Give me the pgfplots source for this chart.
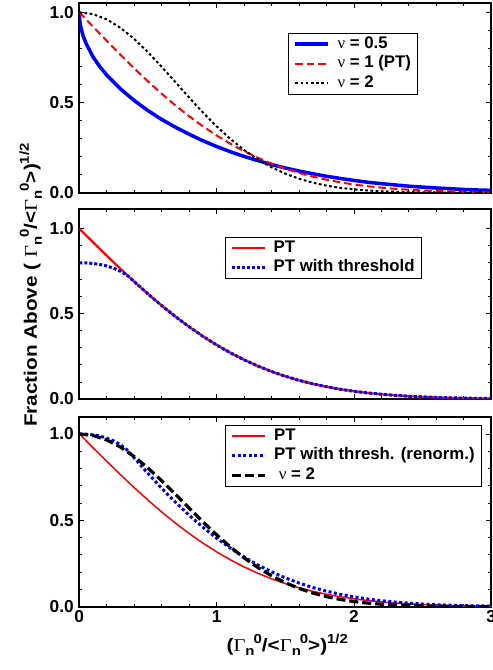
\documentclass[border=0pt]{standalone}
\usepackage{fontspec}
\setmainfont{Liberation Sans}
\newfontfamily\grk{Liberation Serif}
\newfontfamily\labfam[FakeStretch=1.15]{Liberation Sans}
\newfontfamily\labgrk[FakeStretch=1.15]{Liberation Serif}
\usepackage{pgfplots}
\pgfplotsset{compat=1.18}

\newcommand{\tickfont}{\fontsize{17.3}{19}\selectfont\bfseries}
\newcommand{\legfont}{\fontsize{16.8}{19}\selectfont\bfseries}
\newcommand{\labfont}{\labfam\fontsize{18}{21}\selectfont\bfseries}
\newcommand{\sml}[1]{{\fontsize{13}{13}\selectfont #1}}
% Gamma_n^0 as in the axis labels (index and exponent side by side)
\newcommand{\Gn}{{\labgrk\mdseries Γ}\raisebox{-5pt}{\sml{n}}\kern-1pt\raisebox{8pt}{\sml{0}}}

\pgfplotsset{
  panel/.style={
    scale only axis, width=412pt, xmin=0, xmax=3, ymin=0,
    axis line style={line width=1.8pt},
    tick align=inside, major tick length=5pt, minor tick length=3pt,
    tick style={black, line width=0.9pt},
    xtick={0,1,2,3}, ytick={0,0.5,1},
    minor x tick num=4, minor y tick num=4,
    yticklabels={0.0,0.5,1.0},
    tick label style={font=\tickfont},
    yticklabel style={xshift=-2pt},
    /pgf/number format/assume math mode=true,
    legend cell align=left,
    legend style={draw=black, line width=0.8pt, font=\legfont,
      inner xsep=5pt, inner ysep=1pt, row sep=0pt,
      nodes={inner sep=1.5pt, text height=12.5pt, text depth=4pt},
      /tikz/every odd column/.append style={column sep=6pt},
      anchor=north west},
    legend image code/.code={\draw[##1] (0pt,0pt) -- (33pt,0pt);},
    anchor=south west,
  }
}

\begin{document}
\begin{tikzpicture}
% ---- top panel: nu = 0.5, 1, 2
\begin{axis}[panel, at={(0pt,414pt)}, height=189.4pt, ymax=1.05, xticklabels={},
  legend style={at={(rel axis cs:0.507,0.843)}}]
\addplot[blue, line width=3.5pt] coordinates {
(0,1) (0.0005,0.983) (0.002,0.965) (0.005,0.945) (0.01,0.922) (0.02,0.890)
(0.03,0.865) (0.05,0.826) (0.1,0.753) (0.15,0.698) (0.2,0.652) (0.3,0.575)
(0.4,0.511) (0.5,0.455) (0.6,0.406) (0.7,0.363) (0.8,0.324) (0.9,0.288)
(1.0,0.256) (1.1,0.227) (1.2,0.201) (1.3,0.178) (1.4,0.156) (1.5,0.137)
(1.6,0.120) (1.7,0.105) (1.8,0.091) (1.9,0.079) (2.0,0.068) (2.1,0.058)
(2.2,0.050) (2.3,0.043) (2.4,0.036) (2.5,0.031) (2.6,0.026) (2.7,0.022)
(2.8,0.018) (2.9,0.015) (3.0,0.013)};
\addlegendentry{{\grk\mdseries ν} = 0.5}
\addplot[red, line width=2pt, dash pattern=on 7.5pt off 4pt] coordinates {
(0,1) (0.1,0.9203) (0.2,0.8415) (0.3,0.7642) (0.4,0.6892) (0.5,0.6171)
(0.6,0.5485) (0.7,0.4839) (0.8,0.4237) (0.9,0.3681) (1.0,0.3173) (1.1,0.2713)
(1.2,0.2301) (1.3,0.1936) (1.4,0.1615) (1.5,0.1336) (1.6,0.1096) (1.7,0.0891)
(1.8,0.0719) (1.9,0.0574) (2.0,0.0455) (2.1,0.0357) (2.2,0.0278) (2.3,0.0214)
(2.4,0.0164) (2.5,0.0124) (2.6,0.0093) (2.7,0.0069) (2.8,0.0051) (2.9,0.0037)
(3.0,0.0027)};
\addlegendentry{{\grk\mdseries ν} = 1 (PT)}
\addplot[black, line width=2pt, dash pattern=on 2.7pt off 2.5pt] coordinates {
(0,1) (0.1,0.99005) (0.2,0.96079) (0.3,0.91393) (0.4,0.85214) (0.5,0.77880)
(0.6,0.69768) (0.7,0.61263) (0.8,0.52729) (0.9,0.44486) (1.0,0.36788)
(1.1,0.29820) (1.2,0.23693) (1.3,0.18452) (1.4,0.14086) (1.5,0.10540)
(1.6,0.07730) (1.7,0.05558) (1.8,0.03916) (1.9,0.02705) (2.0,0.01832)
(2.1,0.01216) (2.2,0.00791) (2.3,0.00504) (2.4,0.00315) (2.5,0.00193)
(2.6,0.00116) (2.7,0.00068) (2.8,0.00039) (2.9,0.00022) (3.0,0.00012)};
\addlegendentry{{\grk\mdseries ν} = 2}
\end{axis}

% ---- middle panel: PT and PT with threshold
\begin{axis}[panel, at={(0pt,207.7pt)}, height=189.7pt, ymax=1.114, xticklabels={},
  legend style={at={(rel axis cs:0.353,0.856)}}]
\addplot[red, line width=2.2pt] coordinates {
(0,1) (0.1,0.9203) (0.2,0.8415) (0.3,0.7642) (0.4,0.6892) (0.5,0.6171)
(0.6,0.5485) (0.7,0.4839) (0.8,0.4237) (0.9,0.3681) (1.0,0.3173) (1.1,0.2713)
(1.2,0.2301) (1.3,0.1936) (1.4,0.1615) (1.5,0.1336) (1.6,0.1096) (1.7,0.0891)
(1.8,0.0719) (1.9,0.0574) (2.0,0.0455) (2.1,0.0357) (2.2,0.0278) (2.3,0.0214)
(2.4,0.0164) (2.5,0.0124) (2.6,0.0093) (2.7,0.0069) (2.8,0.0051) (2.9,0.0037)
(3.0,0.0027)};
\addlegendentry{PT}
\addplot[blue, line width=3pt, dash pattern=on 3pt off 2pt] coordinates {
(0,0.800) (0.05,0.799) (0.1,0.796) (0.15,0.790) (0.2,0.781) (0.25,0.768)
(0.3,0.750) (0.35,0.725) (0.4,0.6892) (0.5,0.6171)
(0.6,0.5485) (0.7,0.4839) (0.8,0.4237) (0.9,0.3681) (1.0,0.3173) (1.1,0.2713)
(1.2,0.2301) (1.3,0.1936) (1.4,0.1615) (1.5,0.1336) (1.6,0.1096) (1.7,0.0891)
(1.8,0.0719) (1.9,0.0574) (2.0,0.0455) (2.1,0.0357) (2.2,0.0278) (2.3,0.0214)
(2.4,0.0164) (2.5,0.0124) (2.6,0.0093) (2.7,0.0069) (2.8,0.0051) (2.9,0.0037)
(3.0,0.0027)};
\addlegendentry{PT with threshold}
\end{axis}

% ---- bottom panel: renormalised threshold vs nu = 2
\begin{axis}[panel, at={(0pt,0pt)}, height=190pt, ymax=1.10,
  xticklabels={0,1,2,3},
  legend style={at={(rel axis cs:0.354,0.956)}}]
\addplot[red, line width=1.5pt] coordinates {
(0,1) (0.1,0.9203) (0.2,0.8415) (0.3,0.7642) (0.4,0.6892) (0.5,0.6171)
(0.6,0.5485) (0.7,0.4839) (0.8,0.4237) (0.9,0.3681) (1.0,0.3173) (1.1,0.2713)
(1.2,0.2301) (1.3,0.1936) (1.4,0.1615) (1.5,0.1336) (1.6,0.1096) (1.7,0.0891)
(1.8,0.0719) (1.9,0.0574) (2.0,0.0455) (2.1,0.0357) (2.2,0.0278) (2.3,0.0214)
(2.4,0.0164) (2.5,0.0124) (2.6,0.0093) (2.7,0.0069) (2.8,0.0051) (2.9,0.0037)
(3.0,0.0027)};
\addlegendentry{PT}
\addplot[blue, line width=3pt, dash pattern=on 3pt off 2.5pt] coordinates {
(0,1.000) (0.05,0.999) (0.1,0.995) (0.15,0.988) (0.2,0.976) (0.25,0.960)
(0.3,0.9375) (0.35,0.906) (0.4,0.8615) (0.5,0.7714) (0.6,0.6856) (0.7,0.6049)
(0.8,0.5296) (0.9,0.4601) (1.0,0.3966) (1.1,0.3391) (1.2,0.2876) (1.3,0.2420)
(1.4,0.2019) (1.5,0.1670) (1.6,0.1370) (1.7,0.1114) (1.8,0.0899) (1.9,0.0718)
(2.0,0.0569) (2.1,0.0446) (2.2,0.0348) (2.3,0.0268) (2.4,0.0205) (2.5,0.0155)
(2.6,0.0116) (2.7,0.0086) (2.8,0.0064) (2.9,0.0046) (3.0,0.0034)};
\addlegendentry{PT with thresh. (renorm.)}
\addplot[black, line width=3.2pt, dash pattern=on 9pt off 4pt] coordinates {
(0,1) (0.1,0.99127) (0.2,0.96552) (0.3,0.92409) (0.4,0.86905) (0.5,0.80309)
(0.6,0.72921) (0.7,0.65061) (0.8,0.57042) (0.9,0.49140) (1.0,0.41597)
(1.1,0.34598) (1.2,0.28276) (1.3,0.22707) (1.4,0.17918) (1.5,0.13895)
(1.6,0.10585) (1.7,0.07926) (1.8,0.05831) (1.9,0.04215) (2.0,0.02993)
(2.1,0.02089) (2.2,0.01432) (2.3,0.00965) (2.4,0.00639) (2.5,0.00416)
(2.6,0.00266) (2.7,0.00167) (2.8,0.00103) (2.9,0.00063) (3.0,0.00037)};
\addlegendentry{\ {\grk\mdseries ν} = 2}
\end{axis}

% shared axis titles
\node[rotate=90, anchor=base, font=\labfont, inner sep=0pt] at (-42.3pt,321.7pt)
  {Fraction Above ( \Gn/<\Gn>)\raisebox{8pt}{\sml{1/2}}};
\node[anchor=base, font=\labfont, inner sep=0pt] at (208pt,-44.3pt)
  {(\Gn/<\Gn>)\raisebox{8pt}{\sml{1/2}}};

\pgfresetboundingbox
\path[use as bounding box] (-79.3pt,-63.3pt) rectangle (413.7pt,606.7pt);
\end{tikzpicture}
\end{document}
